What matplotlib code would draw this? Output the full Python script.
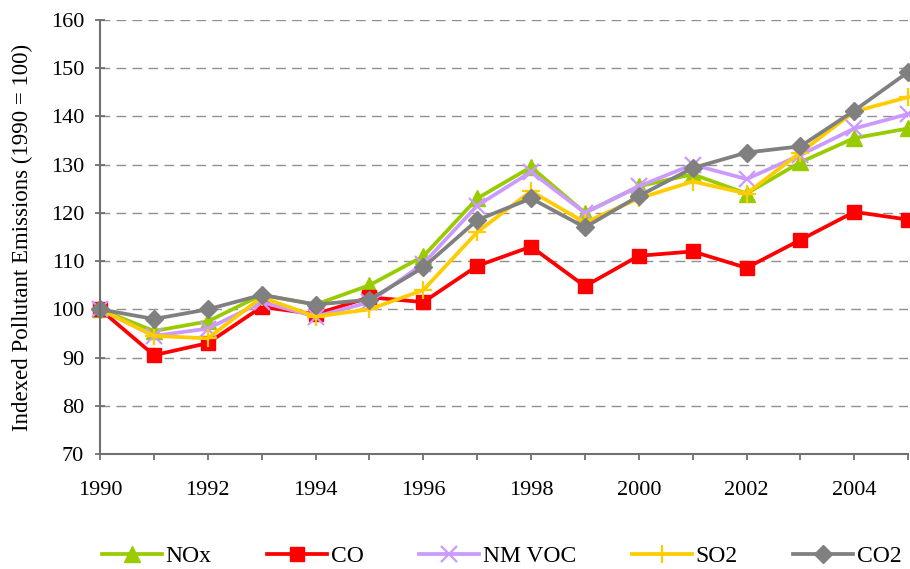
import matplotlib.pyplot as plt

years = list(range(1990, 2006))

nox = [100, 95.5, 97.5, 103, 101, 105, 111, 123, 129.5, 120, 125.5, 128, 124, 130.5, 135.5, 137.5]
co = [100, 90.5, 93, 100.5, 99, 102.5, 101.5, 109, 113, 104.8, 111.1, 112, 108.6, 114.4, 120.2, 118.6]
nmvoc = [100, 94.5, 96, 101.5, 98.5, 101.5, 109.5, 121.5, 128.5, 120, 125.5, 130, 127, 132, 137.5, 140.5]
so2 = [100, 94.5, 94, 102.5, 98.5, 100, 104, 116, 124.5, 118, 123, 126.5, 124, 132.5, 141, 144]
co2 = [100, 98, 100, 103, 101, 102, 108.7, 118.5, 123, 117, 123.5, 129.3, 132.5, 133.8, 141.2, 149.2]

series = [
    ('NOx', nox, '#99CC00', '^'),
    ('CO', co, '#FF0000', 's'),
    ('NM VOC', nmvoc, '#CC99FF', 'x'),
    ('SO2', so2, '#FFCC00', '+'),
    ('CO2', co2, '#808080', 'D'),
]

plt.rcParams['font.family'] = ['Liberation Serif', 'DejaVu Serif']

fig = plt.figure(figsize=(9.1, 5.69), dpi=100)
ax = fig.add_axes([0.11, 0.202, 0.888, 0.763])

for name, vals, col, mk in series:
    ms = {'^': 11, 's': 10.5, 'x': 12, '+': 13, 'D': 9}[mk]
    ax.plot(years, vals, color=col, marker=mk, markersize=ms, linewidth=2.7,
            markeredgewidth=1.6 if mk in ('x', '+') else 1, label=name, clip_on=False)

ax.set_xlim(1990, 2005)
ax.set_ylim(70, 160)
ax.set_yticks(range(70, 161, 10))
ax.set_xticks(range(1990, 2006))
ax.set_xticklabels([str(y) if y % 2 == 0 else '' for y in years])
ax.yaxis.grid(True, linestyle=(0, (7, 4.5)), color='#909090', linewidth=1)
ax.set_axisbelow(True)

for s in ('top', 'right'):
    ax.spines[s].set_visible(False)
for s in ('left', 'bottom'):
    ax.spines[s].set_color('#707070')
    ax.spines[s].set_linewidth(1.5)
ax.tick_params(axis='x', direction='out', color='#707070', width=1.3, length=4.5,
               labelsize=16, pad=15)
ax.tick_params(axis='y', direction='inout', color='#707070', width=1.3, length=7,
               labelsize=16, pad=8)

ax.set_ylabel('Indexed Pollutant Emissions (1990 = 100)', fontsize=16.5, labelpad=13)

fig.legend(loc='center left', bbox_to_anchor=(0.112, 0.022), ncol=5, frameon=False,
           fontsize=17, handlelength=2.55, columnspacing=2.35, handletextpad=0.15,
           borderpad=0, borderaxespad=0)

fig.savefig('out.png', dpi=100)
